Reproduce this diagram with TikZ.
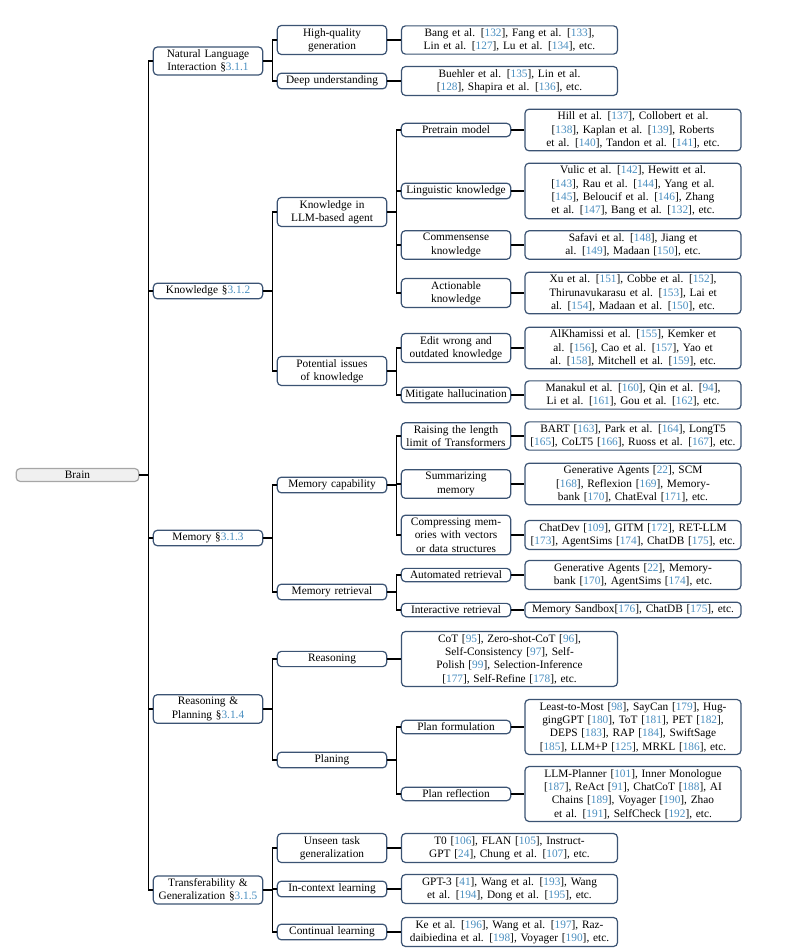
\documentclass[tikz,border=0pt]{standalone}
\usepackage{fontspec}
\setmainfont{Liberation Serif}
\usetikzlibrary{positioning}
\definecolor{boxblue}{HTML}{3B5373}
\definecolor{citeblue}{HTML}{4A8FC0}
\newcommand{\rf}[1]{[\textcolor{citeblue}{#1}]}
\newcommand{\secref}[1]{\S\textcolor{citeblue}{#1}}
\tikzset{
  box/.style={rectangle,draw=boxblue,line width=0.9pt,fill=white,rounded corners=3pt,align=center,
              font=\fontsize{8.5}{10}\selectfont,inner xsep=1.5pt,inner ysep=2pt},
  sec/.style={box,text width=79pt},
  sub/.style={box,text width=79pt},
  leaf/.style={box,text width=159pt},
  % the root is grey, not blue
  root/.style={box,draw=gray!70,fill=gray!12,text width=89pt},
  link/.style={line width=0.8pt},
}

\begin{document}
\begin{tikzpicture}[x=0.75pt,y=-0.75pt]
  \useasboundingbox (0,0) rectangle (812,952);
  % root and sections
  \node[root] (brain) at (77.5,475) {Brain};
  \node[sec] (nli)  at (208,61)  {Natural Language\\ Interaction \secref{3.1.1}};
  \node[sec] (know) at (208,291) {Knowledge \secref{3.1.2}};
  \node[sec] (mem)  at (208,538) {Memory \secref{3.1.3}};
  \node[sec] (rp)   at (208,709) {Reasoning \&\\ Planning \secref{3.1.4}};
  \node[sec] (tg)   at (208,890) {Transferability \&\\ Generalization \secref{3.1.5}};
  % second level
  \node[sub] (hq)     at (332,40)  {High-quality\\ generation};
  \node[sub] (deep)   at (332,81)  {Deep understanding};
  \node[sub] (kin)    at (332,212) {Knowledge in\\ LLM-based agent};
  \node[sub] (pik)    at (332,371) {Potential issues\\ of knowledge};
  \node[sub] (mcap)   at (332,485) {Memory capability};
  \node[sub] (mret)   at (332,592) {Memory retrieval};
  \node[sub] (reas)   at (332,659) {Reasoning};
  \node[sub] (plan)   at (332,760) {Planing};
  \node[sub] (unseen) at (332,848) {Unseen task\\ generalization};
  \node[sub] (icl)    at (332,889) {In-context learning};
  \node[sub] (cont)   at (332,932) {Continual learning};
  % third level
  \node[sub] (pre)   at (456,130) {Pretrain model};
  \node[sub] (ling)  at (456,191) {Linguistic knowledge};
  \node[sub] (comm)  at (456,245) {Commensense\\ knowledge};
  \node[sub] (act)   at (456,293) {Actionable\\ knowledge};
  \node[sub] (edit)  at (456,348) {Edit wrong and\\ outdated knowledge};
  \node[sub] (miti)  at (456,395) {Mitigate hallucination};
  \node[sub] (rais)  at (456,436) {Raising the length\\ limit of Transformers};
  \node[sub] (summ)  at (456,484) {Summarizing\\ memory};
  \node[sub] (comp)  at (456,535) {Compressing mem-\\ ories with vectors\\ or data structures};
  \node[sub] (auto)  at (456,575) {Automated retrieval};
  \node[sub] (inter) at (456,610) {Interactive retrieval};
  \node[sub] (pform) at (456,727) {Plan formulation};
  \node[sub] (prefl) at (456,794) {Plan reflection};
  % leaves next to the second level
  \node[leaf] (hqL)     at (509.5,40)  {Bang et al. \rf{132}, Fang et al. \rf{133},\\ Lin et al. \rf{127}, Lu et al. \rf{134}, etc.};
  \node[leaf] (deepL)   at (509.5,81)  {Buehler et al. \rf{135}, Lin et al.\\ \rf{128}, Shapira et al. \rf{136}, etc.};
  \node[leaf] (reasL)   at (509.5,659) {CoT \rf{95}, Zero-shot-CoT \rf{96},\\ Self-Consistency \rf{97}, Self-\\ Polish \rf{99}, Selection-Inference\\ \rf{177}, Self-Refine \rf{178}, etc.};
  \node[leaf] (unseenL) at (509.5,848) {T0 \rf{106}, FLAN \rf{105}, Instruct-\\ GPT \rf{24}, Chung et al. \rf{107}, etc.};
  \node[leaf] (iclL)    at (509.5,889) {GPT-3 \rf{41}, Wang et al. \rf{193}, Wang\\ et al. \rf{194}, Dong et al. \rf{195}, etc.};
  \node[leaf] (contL)   at (509.5,932) {Ke et al. \rf{196}, Wang et al. \rf{197}, Raz-\\ daibiedina et al. \rf{198}, Voyager \rf{190}, etc.};
  % leaves next to the third level
  \node[leaf] (preL)   at (633,130) {Hill et al. \rf{137}, Collobert et al.\\ \rf{138}, Kaplan et al. \rf{139}, Roberts\\ et al. \rf{140}, Tandon et al. \rf{141}, etc.};
  \node[leaf] (lingL)  at (633,191) {Vulic et al. \rf{142}, Hewitt et al.\\ \rf{143}, Rau et al. \rf{144}, Yang et al.\\ \rf{145}, Beloucif et al. \rf{146}, Zhang\\ et al. \rf{147}, Bang et al. \rf{132}, etc.};
  \node[leaf] (commL)  at (633,245) {Safavi et al. \rf{148}, Jiang et\\ al. \rf{149}, Madaan \rf{150}, etc.};
  \node[leaf] (actL)   at (633,293) {Xu et al. \rf{151}, Cobbe et al. \rf{152},\\ Thirunavukarasu et al. \rf{153}, Lai et\\ al. \rf{154}, Madaan et al. \rf{150}, etc.};
  \node[leaf] (editL)  at (633,348) {AlKhamissi et al. \rf{155}, Kemker et\\ al. \rf{156}, Cao et al. \rf{157}, Yao et\\ al. \rf{158}, Mitchell et al. \rf{159}, etc.};
  \node[leaf] (mitiL)  at (633,395) {Manakul et al. \rf{160}, Qin et al. \rf{94},\\ Li et al. \rf{161}, Gou et al. \rf{162}, etc.};
  \node[leaf] (raisL)  at (633,436) {BART \rf{163}, Park et al. \rf{164}, LongT5\\ \rf{165}, CoLT5 \rf{166}, Ruoss et al. \rf{167}, etc.};
  \node[leaf] (summL)  at (633,484) {Generative Agents \rf{22}, SCM\\ \rf{168}, Reflexion \rf{169}, Memory-\\ bank \rf{170}, ChatEval \rf{171}, etc.};
  \node[leaf] (compL)  at (633,535) {ChatDev \rf{109}, GITM \rf{172}, RET-LLM\\ \rf{173}, AgentSims \rf{174}, ChatDB \rf{175}, etc.};
  \node[leaf] (autoL)  at (633,575) {Generative Agents \rf{22}, Memory-\\ bank \rf{170}, AgentSims \rf{174}, etc.};
  \node[leaf] (interL) at (633,610) {Memory Sandbox\rf{176}, ChatDB \rf{175}, etc.};
  \node[leaf] (pformL) at (633,727) {Least-to-Most \rf{98}, SayCan \rf{179}, Hug-\\ gingGPT \rf{180}, ToT \rf{181}, PET \rf{182},\\ DEPS \rf{183}, RAP \rf{184}, SwiftSage\\ \rf{185}, LLM+P \rf{125}, MRKL \rf{186}, etc.};
  \node[leaf] (preflL) at (633,794) {LLM-Planner \rf{101}, Inner Monologue\\ \rf{187}, ReAct \rf{91}, ChatCoT \rf{188}, AI\\ Chains \rf{189}, Voyager \rf{190}, Zhao\\ et al. \rf{191}, SelfCheck \rf{192}, etc.};
  % tree edges
  \foreach \p/\c in {brain/nli,brain/know,brain/mem,brain/rp,brain/tg,
                     nli/hq,nli/deep,know/kin,know/pik,mem/mcap,mem/mret,
                     rp/reas,rp/plan,tg/unseen,tg/icl,tg/cont,
                     kin/pre,kin/ling,kin/comm,kin/act,pik/edit,pik/miti,
                     mcap/rais,mcap/summ,mcap/comp,mret/auto,mret/inter,
                     plan/pform,plan/prefl}
    \draw[link] (\p.east) -- ++(9,0) |- (\c.west);
  \foreach \n in {hq,deep,reas,unseen,icl,cont,pre,ling,comm,act,edit,miti,
                  rais,summ,comp,auto,inter,pform,prefl}
    \draw[link] (\n.east) -- (\n L.west);
\end{tikzpicture}
\end{document}
